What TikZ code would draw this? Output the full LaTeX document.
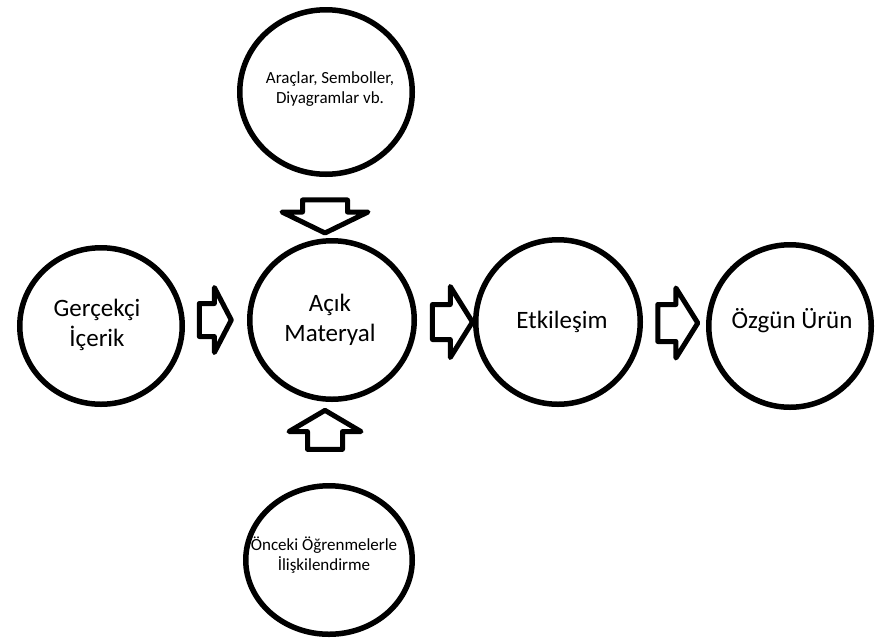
\documentclass[tikz,border=0pt]{standalone}
\usepackage{fontspec}
\setmainfont{Carlito}
\usetikzlibrary{shapes.geometric,shapes.arrows}
\begin{document}
\begin{tikzpicture}[x=1pt,y=-1pt,
  circ/.style={draw,ellipse,line width=5.5pt,inner sep=0pt},
  big/.style={font=\fontsize{25}{30.5}\selectfont,align=center,inner sep=0pt},
  small/.style={font=\fontsize{17}{20.5}\selectfont,align=center,inner sep=0pt},
  blockarrow/.style={draw,single arrow,line width=5pt,line join=round,inner xsep=0pt,text height=0pt,text depth=0pt,text width=0pt}]
\useasboundingbox (0,0) rectangle (875,638);
% circles
\node[circ,minimum width=172.5pt,minimum height=164.5pt] (top) at (326,92) {};
\node[circ,minimum width=162.5pt,minimum height=156.5pt] (left) at (101,326) {};
\node[circ,minimum width=164.5pt,minimum height=158.5pt] (mid) at (332,320) {};
\node[circ,minimum width=164.5pt,minimum height=164.5pt] (etk) at (558,322) {};
\node[circ,minimum width=162.5pt,minimum height=162.5pt] (ozg) at (790,326) {};
\node[circ,minimum width=166.5pt,minimum height=148.5pt] (bot) at (329,560) {};
% texts
\node[small] (ttop) at (330,89) {Araçlar, Semboller,\\Diyagramlar vb.};
\node[small] (tbot) at (324,555) {Önceki Öğrenmelerle\\İlişkilendirme};
\node[big] (tleft) at (97,325) {Gerçekçi\\İçerik};
\node[big] (tmid) at (330,320) {Açık\\Materyal};
\node[big] (tetk) at (562,322) {Etkileşim};
\node[big] (tozg) at (792,321) {Özgün Ürün};
% block arrows
\node[blockarrow,minimum height=32pt,inner ysep=14pt,single arrow head extend=16pt,single arrow tip angle=125] (a1) at (211,320) {};
\node[blockarrow,minimum height=40pt,inner ysep=15pt,single arrow head extend=18pt,single arrow tip angle=116] (a2) at (447,322) {};
\node[blockarrow,minimum height=40pt,inner ysep=16pt,single arrow head extend=16.5pt,single arrow tip angle=116] (a3) at (672,323) {};
\node[blockarrow,rotate=270,minimum height=33pt,inner ysep=20pt,single arrow head extend=20.5pt,single arrow tip angle=128] (a4) at (325,211) {};
\node[blockarrow,rotate=90,minimum height=39pt,inner ysep=15pt,single arrow head extend=18.5pt,single arrow tip angle=119] (a5) at (325,435) {};
\end{tikzpicture}
\end{document}
